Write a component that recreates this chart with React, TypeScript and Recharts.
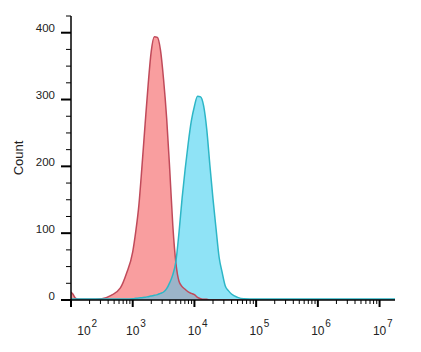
import React from 'react';
import { ComposedChart, Area, Line, XAxis, YAxis } from 'recharts';

// log10 of fluorescence intensity (x positions of the histogram bins)
const logIntensity = [
  2.0, 2.03, 2.07, 2.12, 2.3, 2.5, 2.65, 2.8, 2.9,
  3.0, 3.05, 3.1, 3.15, 3.2, 3.25, 3.3, 3.35, 3.4, 3.45, 3.5, 3.55, 3.6, 3.65, 3.7, 3.75, 3.8,
  3.85, 3.9, 3.95, 4.0, 4.05, 4.1, 4.15, 4.2, 4.25, 4.3, 4.35, 4.4, 4.45, 4.5, 4.55, 4.6,
  4.7, 4.8, 5.0, 5.5, 6.0, 6.5, 7.0, 7.25,
];

// red histogram
const controlCounts = [
  12, 9, 3, 1, 1, 2, 7, 18, 40,
  72, 103, 142, 200, 262, 322, 372, 394, 393, 374, 330, 272, 195, 111, 55, 28, 20,
  16, 12, 10, 8, 4, 2, 1, 1, 0, 0, 0, 0, 0, 0, 0, 0,
  0, 0, 0, 0, 0, 0, 0, 0,
];

// cyan histogram
const stainedCounts = [
  1.5, 1.5, 1.5, 1.5, 1.5, 1.5, 1.5, 1.5, 1.5,
  2, 2.5, 3, 3.5, 4, 5, 6, 7, 8, 10, 12, 17, 26, 38, 58, 101, 152,
  196, 235, 268, 290, 305, 304, 290, 255, 202, 152, 107, 64, 41, 21, 14, 9,
  4, 2, 1.5, 1.5, 1.5, 1.5, 1.5, 1.5,
];

const decades = [2, 3, 4, 5, 6, 7];
const countTicks = [0, 25, 50, 75, 100, 125, 150, 175, 200, 225, 250, 275, 300, 325, 350, 375, 400, 425];

const data = logIntensity.map((x, i) => ({
  x,
  control: controlCounts[i],
  stained: stainedCounts[i],
  overlap: Math.min(controlCounts[i], stainedCounts[i]),
}));

const xTicks: number[] = [];
decades.forEach(d => {
  if (d === 7) {
    xTicks.push(7);
    return;
  }
  for (let k = 1; k <= 9; k++) xTicks.push(d + Math.log10(k));
});

const FONT = '"Liberation Sans", Arial, sans-serif';

const XTick = (props: any) => {
  const { x, y, payload } = props;
  const v = payload.value;
  const major = Math.abs(v - Math.round(v)) < 1e-6;
  if (!major) {
    return <line x1={x} y1={y} x2={x} y2={y + 4} stroke="#000" strokeWidth={1} />;
  }
  const shift = v === 2 ? 13 : 0;
  return (
    <g>
      <line x1={x} y1={y} x2={x} y2={y + 7} stroke="#000" strokeWidth={2} />
      <text x={x + shift} y={y + 35} textAnchor="middle" fontSize={12} fontFamily={FONT} fill="#222">10</text>
      <text x={x + shift + 7.5} y={y + 27} textAnchor="start" fontSize={10} fontFamily={FONT} fill="#222">{Math.round(v)}</text>
    </g>
  );
};

const YTick = (props: any) => {
  const { x, y, payload } = props;
  const v = payload.value;
  const major = v % 100 === 0;
  if (!major) {
    return <line x1={x - 5} y1={y} x2={x} y2={y} stroke="#000" strokeWidth={1} />;
  }
  return (
    <g>
      <line x1={x - 10} y1={y} x2={x} y2={y} stroke="#000" strokeWidth={2} />
      <text x={x - 16} y={y} dy={-0.5} textAnchor="end" fontSize={11.5} fontFamily={FONT} fill="#222">{v}</text>
    </g>
  );
};

export default function App() {
  return (
    <div style={{ position: 'absolute', left: 0, top: 0, width: 421, height: 352, background: '#fff' }}>
      <ComposedChart width={421} height={352} data={data} margin={{ top: 16, right: 26, bottom: 0, left: 0 }}>
        <XAxis
          dataKey="x"
          type="number"
          domain={[2, 7.25]}
          ticks={xTicks}
          interval={0}
          height={52}
          tickSize={0}
          tickMargin={0}
          tickLine={false}
          tick={<XTick />}
          axisLine={{ stroke: '#000', strokeWidth: 1.5 }}
          allowDataOverflow
        />
        <YAxis
          type="number"
          domain={[0, 425]}
          ticks={countTicks}
          interval={0}
          width={71}
          tickSize={0}
          tickMargin={0}
          tickLine={false}
          tick={<YTick />}
          axisLine={{ stroke: '#000', strokeWidth: 1.5 }}
          label={{ value: 'Count', angle: -90, position: 'center', dx: -17, fontSize: 13, fontFamily: FONT, fill: '#222' }}
          allowDataOverflow
        />
        <Area type="monotone" dataKey="control" fill="#f99e9f" fillOpacity={1} stroke="none" dot={false} activeDot={false} isAnimationActive={false} />
        <Area type="monotone" dataKey="stained" fill="#8fe3f6" fillOpacity={1} stroke="none" dot={false} activeDot={false} isAnimationActive={false} />
        <Area type="monotone" dataKey="overlap" fill="#9bb4c9" fillOpacity={1} stroke="none" dot={false} activeDot={false} isAnimationActive={false} />
        <Line type="monotone" dataKey="control" stroke="#c04a5a" strokeWidth={1.5} dot={false} activeDot={false} isAnimationActive={false} />
        <Line type="monotone" dataKey="stained" stroke="#2db6c6" strokeWidth={1.5} dot={false} activeDot={false} isAnimationActive={false} />
      </ComposedChart>
    </div>
  );
}
